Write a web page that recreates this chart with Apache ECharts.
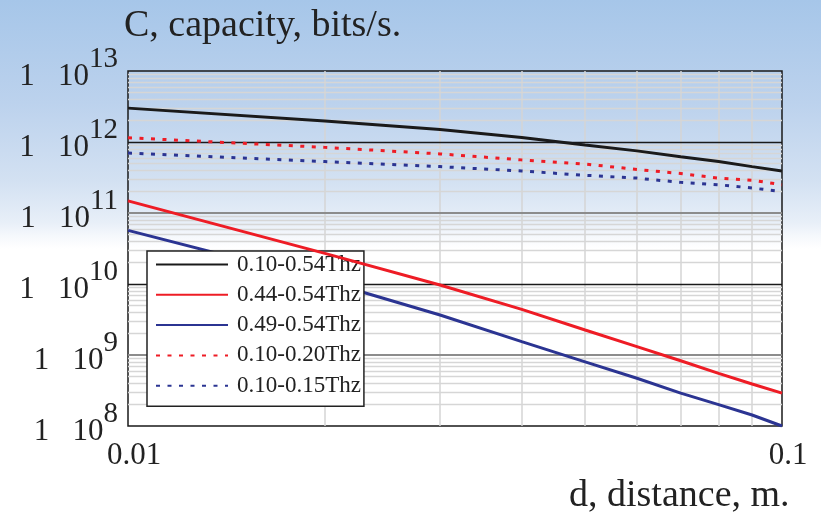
<!DOCTYPE html>
<html>
<head>
<meta charset="utf-8">
<script src="https://cdn.jsdelivr.net/npm/echarts@6/dist/echarts.min.js"></script>
<style>
  html, body { margin: 0; padding: 0; background: #fff; }
  #chart { width: 821px; height: 518px; }
</style>
</head>
<body>
<div id="chart"></div>
<script>
// distance, m
const distance = [0.01, 0.02, 0.03, 0.04, 0.05, 0.06, 0.07, 0.08, 0.09, 0.1];

// capacity, bits/s
const cap_010_054 = [3.0e12, 1.98e12, 1.5e12, 1.16e12, 9.1e11, 7.5e11, 6.2e11, 5.3e11, 4.5e11, 3.9e11];
const cap_044_054 = [1.48e11, 2.7e10, 9.7e9, 4.4e9, 2.25e9, 1.31e9, 8.3e8, 5.5e8, 3.9e8, 2.9e8];
const cap_049_054 = [5.7e10, 1.1e10, 3.66e9, 1.54e9, 8.0e8, 4.7e8, 2.9e8, 2.0e8, 1.43e8, 1.0e8];
const cap_010_020 = [1.15e12, 8.4e11, 6.8e11, 5.6e11, 4.9e11, 4.1e11, 3.6e11, 3.1e11, 2.9e11, 2.5e11];
const cap_010_015 = [7.0e11, 5.3e11, 4.5e11, 3.9e11, 3.4e11, 3.1e11, 2.7e11, 2.5e11, 2.25e11, 2.0e11];

const legendNames = ['0.10-0.54Thz', '0.44-0.54Thz', '0.49-0.54Thz', '0.10-0.20Thz', '0.10-0.15Thz'];

// grid lines
const xMinor = [0.02, 0.03, 0.04, 0.05, 0.06, 0.07, 0.08, 0.09];
const yDecades = [8, 9, 10, 11, 12];
const yMajorDark = [1e12, 1e10];
const yMajorGray = [1e11, 1e9];

const serif = '"Liberation Serif", "DejaVu Serif", serif';
const black = '#1a1a1a';
const red = '#ee1c25';
const blue = '#2b3492';
const dotted = [4, 7.5];

const pair = (ys) => distance.map((d, i) => [d, ys[i]]);

const gridMarks = [];
xMinor.forEach(v => gridMarks.push({ xAxis: v, lineStyle: { color: '#d4d4d4', width: 1.5, type: 'solid' } }));
yDecades.forEach(e => {
  for (let m = 2; m <= 9; m++) {
    gridMarks.push({ yAxis: m * Math.pow(10, e), lineStyle: { color: '#d6d6d6', width: 1.3, type: 'solid' } });
  }
});
yMajorGray.forEach(v => gridMarks.push({ yAxis: v, lineStyle: { color: '#8c8c8c', width: 2.2, type: 'solid' } }));
yMajorDark.forEach(v => gridMarks.push({ yAxis: v, lineStyle: { color: '#1a1a1a', width: 1.3, type: 'solid' } }));

const chart = echarts.init(document.getElementById('chart'));

const option = {
  animation: false,
  backgroundColor: {
    type: 'linear', x: 0, y: 0, x2: 0, y2: 1,
    colorStops: [
      { offset: 0, color: '#a6c6e9' },
      { offset: 0.2, color: '#bcd2ed' },
      { offset: 0.35, color: '#d3e1f2' },
      { offset: 0.43, color: '#e8eff8' },
      { offset: 0.455, color: '#f5f8fc' },
      { offset: 0.48, color: '#ffffff' },
      { offset: 1, color: '#ffffff' }
    ]
  },
  title: [
    {
      text: 'C, capacity, bits/s.',
      left: 119, top: 2,
      textStyle: { fontFamily: serif, fontSize: 38, fontWeight: 'normal', color: '#222' }
    },
    {
      text: 'd, distance, m.',
      left: 564, top: 472,
      textStyle: { fontFamily: serif, fontSize: 38, fontWeight: 'normal', color: '#222' }
    }
  ],
  grid: {
    left: 128, right: 39, top: 71, bottom: 92,
    show: true, borderColor: '#1a1a1a', borderWidth: 1.5, backgroundColor: 'transparent'
  },
  legend: {
    data: legendNames,
    orient: 'vertical',
    left: 147, top: 251,
    padding: [2, 3, 9, 8],
    itemWidth: 72, itemHeight: 20, itemGap: 7.3,
    backgroundColor: '#fff',
    borderColor: '#222', borderWidth: 1.5,
    z: 10,
    itemStyle: { opacity: 0 },
    textStyle: { fontFamily: serif, fontSize: 23, color: '#222', padding: [0, 0, 0, 4] }
  },
  xAxis: {
    type: 'log', logBase: 10, min: 0.01, max: 0.1, interval: 1,
    axisLine: { show: false }, axisTick: { show: false },
    splitLine: { show: false },
    axisLabel: {
      fontFamily: serif, fontSize: 31, color: '#222', margin: 14,
      padding: [0, 0, 0, 12],
      formatter: v => String(+v.toPrecision(3))
    }
  },
  yAxis: {
    type: 'log', logBase: 10, min: 1e8, max: 1e13, interval: 1,
    axisLine: { show: false }, axisTick: { show: false },
    splitLine: { show: false },
    axisLabel: {
      margin: 10,
      formatter: v => '{b|1   10}{s|' + Math.round(Math.log10(v)) + '}',
      rich: {
        b: { fontFamily: serif, fontSize: 31, color: '#222', lineHeight: 30, padding: [18, 0, 6, 0] },
        s: { fontFamily: serif, fontSize: 29, color: '#222', lineHeight: 30, padding: [0, 0, 24, 0] }
      }
    }
  },
  series: [
    {
      name: 'grid', type: 'line', data: [[0.01, 1e8]], symbol: 'none', z: 1,
      lineStyle: { width: 0 }, silent: true,
      markLine: { silent: true, z: 1, symbol: ['none', 'none'], label: { show: false }, data: gridMarks }
    },
    {
      name: '0.10-0.54Thz', type: 'line', data: pair(cap_010_054), symbol: 'none', z: 2,
      lineStyle: { color: black, width: 3 }, itemStyle: { color: black }
    },
    {
      name: '0.44-0.54Thz', type: 'line', data: pair(cap_044_054), symbol: 'none', z: 11,
      lineStyle: { color: red, width: 3 }, itemStyle: { color: red }
    },
    {
      name: '0.49-0.54Thz', type: 'line', data: pair(cap_049_054), symbol: 'none', z: 2,
      lineStyle: { color: blue, width: 3 }, itemStyle: { color: blue }
    },
    {
      name: '0.10-0.20Thz', type: 'line', data: pair(cap_010_020), symbol: 'none', z: 2,
      lineStyle: { color: red, width: 3, type: dotted }, itemStyle: { color: red }
    },
    {
      name: '0.10-0.15Thz', type: 'line', data: pair(cap_010_015), symbol: 'none', z: 2,
      lineStyle: { color: blue, width: 3, type: dotted }, itemStyle: { color: blue }
    }
  ]
};

chart.setOption(option);
</script>
</body>
</html>
